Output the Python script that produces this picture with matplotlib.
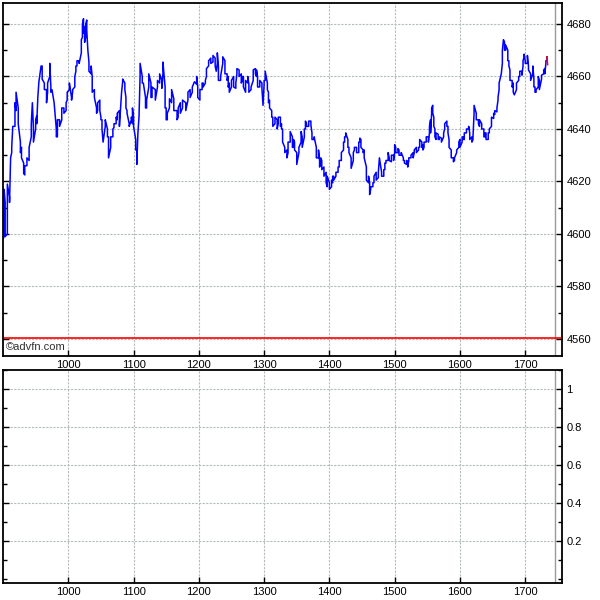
import matplotlib
matplotlib.use("Agg")
import matplotlib.pyplot as plt
from matplotlib.ticker import MultipleLocator

# intraday ticks: minutes after midnight, high / low seen in that minute
tm = [540, 541, 542, 544, 546, 547, 548, 549, 551, 552, 554, 556, 557, 559, 560, 562, 564, 566, 567, 568,
      570, 571, 572, 573, 575, 576, 578, 580, 581, 583, 584, 585, 587, 589, 590, 592, 594, 596, 598, 599,
      601, 603, 604, 606, 607, 608, 610, 612, 613, 614, 615, 616, 617, 618, 619, 621, 622, 624, 626, 627,
      629, 630, 631, 632, 634, 636, 637, 639, 641, 642, 644, 645, 647, 649, 650, 652, 653, 654, 656, 658,
      659, 660, 662, 663, 664, 665, 666, 668, 669, 671, 672, 674, 676, 677, 680, 682, 684, 686, 687, 689,
      690, 691, 693, 695, 697, 700, 701, 703, 705, 708, 710, 712, 714, 716, 718, 719, 721, 723, 724, 726,
      727, 729, 731, 733, 735, 736, 737, 738, 740, 742, 744, 746, 747, 748, 750, 752, 754, 755, 757, 759,
      760, 761, 763, 765, 766, 768, 770, 772, 773, 774, 776, 778, 779, 780, 781, 783, 784, 785, 787, 788,
      790, 792, 793, 795, 796, 797, 799, 801, 802, 804, 806, 807, 808, 810, 812, 814, 815, 817, 818, 819,
      821, 823, 824, 826, 828, 830, 831, 832, 833, 835, 837, 838, 840, 842, 843, 844, 846, 848, 849, 851,
      853, 854, 855, 857, 858, 860, 862, 863, 865, 867, 868, 869, 871, 872, 874, 876, 877, 878, 880, 881,
      883, 885, 886, 888, 890, 891, 892, 894, 895, 897, 899, 900, 901, 903, 904, 906, 908, 909, 911, 912,
      913, 915, 917, 918, 920, 922, 923, 925, 926, 927, 929, 931, 932, 933, 934, 935, 936, 937, 938, 940,
      941, 943, 945, 946, 948, 949, 950, 952, 954, 955, 957, 959, 960, 962, 963, 964, 966, 968, 969, 971,
      972, 973, 975, 977, 978, 980, 982, 983, 984, 986, 987, 989, 991, 992, 994, 995, 996, 998, 999, 1000,
      1001, 1002, 1004, 1005, 1006, 1008, 1009, 1010, 1012, 1014, 1015, 1017, 1018, 1019, 1020, 1022, 1023,
      1025, 1027, 1028, 1029, 1030, 1032, 1033, 1035, 1037, 1038, 1039, 1040]
hi = [4598, 4617, 4612, 4619, 4614, 4629, 4633, 4641, 4650, 4654, 4648, 4635, 4633, 4627, 4626, 4629, 4633, 4642, 4650, 4640,
      4643.5, 4645, 4652, 4658, 4664, 4664, 4657.5, 4655, 4657.5, 4665, 4656, 4655, 4650, 4640, 4643.5, 4643.5, 4648, 4648, 4650, 4654,
      4657.5, 4652, 4655, 4660, 4664, 4666, 4666, 4674, 4680, 4682, 4679, 4680, 4681.5, 4670, 4665.5, 4664, 4660, 4655, 4648, 4650,
      4651, 4644.5, 4643.5, 4635, 4643.5, 4640, 4637, 4637, 4640, 4642, 4644.5, 4646, 4647, 4654, 4659, 4657.5, 4652, 4647, 4642, 4644.5,
      4648, 4644.5, 4636, 4632, 4638.5, 4644.5, 4665, 4660, 4657.5, 4652, 4651, 4661, 4657.5, 4656, 4655, 4658.5, 4661, 4658.5, 4665.5, 4656,
      4648, 4646, 4651.5, 4655, 4651.5, 4647, 4648, 4650, 4651, 4650, 4654, 4655, 4656, 4658, 4660, 4656, 4655, 4657.5, 4657.5, 4658.5,
      4663, 4666, 4667, 4668, 4667, 4662, 4669, 4664, 4660, 4667.5, 4666, 4661, 4660, 4657.5, 4658.5, 4660, 4657.5, 4663, 4662.5, 4661,
      4660, 4660, 4658.5, 4660, 4657, 4656, 4662.5, 4663, 4662.5, 4660, 4658.5, 4657.5, 4649, 4658.5, 4662, 4657.5, 4654, 4651, 4647, 4644.5,
      4644.5, 4643.5, 4644.5, 4644.5, 4642, 4640, 4633, 4632, 4635, 4639, 4637, 4636, 4635, 4631, 4633, 4639, 4637, 4640, 4643, 4642,
      4643, 4643, 4638.5, 4637, 4633, 4632, 4628, 4629, 4628, 4625.5, 4623.5, 4622, 4619.5, 4620.5, 4622, 4622, 4623.5, 4625.5, 4628, 4631,
      4635, 4637, 4638.5, 4636, 4633, 4629, 4631, 4633, 4633, 4635, 4636.5, 4636, 4632, 4632, 4625.5, 4622, 4619.5, 4618, 4619.5, 4622,
      4623.5, 4623.5, 4629, 4623.5, 4624.5, 4627, 4628, 4631, 4629, 4630, 4630, 4634, 4633, 4632.5, 4632, 4631, 4629, 4628, 4628, 4627.5,
      4629, 4630, 4631, 4632, 4633, 4633, 4636, 4635, 4634, 4635, 4637, 4637, 4641, 4643.5, 4648, 4649, 4644.5, 4640, 4638.5, 4638,
      4637, 4636.5, 4638.5, 4642, 4643, 4641, 4636, 4632, 4629, 4629, 4632, 4635, 4636, 4637, 4637, 4638.5, 4640, 4641, 4638.5, 4637,
      4637, 4649, 4646, 4643.5, 4643.5, 4642, 4640, 4638.5, 4638.5, 4638.5, 4640, 4644.5, 4646, 4647, 4648, 4652, 4657.5, 4661, 4670, 4674,
      4673, 4672, 4670, 4666, 4662.5, 4658.5, 4657.5, 4653, 4657.5, 4660, 4662, 4662, 4666, 4668.5, 4666, 4668, 4664,
      4661, 4664, 4659, 4656, 4655, 4660, 4658.5, 4660.5, 4662.5, 4663, 4666, 4667.5]
lo = [4598, 4599, 4599, 4600, 4612, 4629, 4631, 4641, 4641, 4647, 4642, 4631, 4629, 4623, 4622.5, 4626, 4628, 4637, 4650, 4635,
      4640, 4642, 4652, 4658, 4664, 4659, 4655, 4650, 4654, 4660, 4654, 4655, 4650, 4637, 4637, 4641, 4643.5, 4646, 4647, 4651,
      4655, 4651, 4654, 4656, 4662, 4664, 4665, 4669, 4675, 4676.5, 4673, 4675, 4677.5, 4670, 4662, 4661, 4654, 4652, 4646, 4647,
      4647, 4643.5, 4640, 4635, 4641, 4637, 4629, 4633, 4637, 4640.5, 4642, 4643.5, 4641, 4654, 4658, 4655, 4648, 4646, 4641, 4643.5,
      4642, 4641, 4632, 4626.5, 4638.5, 4644.5, 4660, 4657.5, 4657.5, 4648, 4648, 4656, 4652, 4652, 4651, 4656, 4657.5, 4655.5, 4661, 4648,
      4643.5, 4643.5, 4648, 4650, 4647, 4643.5, 4644.5, 4646, 4648, 4647, 4651, 4652, 4654, 4658, 4657, 4652, 4651, 4655, 4656, 4657.5,
      4660, 4664, 4665, 4665.5, 4664, 4662, 4665, 4658.5, 4658.5, 4665, 4661, 4658.5, 4656, 4654, 4656, 4656, 4655.5, 4661, 4660, 4657.5,
      4658.5, 4656, 4654, 4657.5, 4654, 4655, 4658.5, 4661, 4660, 4656, 4656, 4655.5, 4649, 4657, 4658.5, 4655, 4650, 4648, 4644.5, 4641,
      4642, 4640, 4642, 4641, 4640, 4635, 4631, 4629, 4631, 4635, 4633, 4633, 4632, 4626.5, 4631, 4635, 4633, 4637, 4640, 4641,
      4641, 4641.5, 4636, 4636, 4629, 4629, 4625.5, 4627, 4624.5, 4622, 4619.5, 4618, 4617, 4618, 4619.5, 4620.5, 4622, 4623.5, 4625.5, 4628,
      4632, 4635, 4637, 4633, 4631, 4625, 4628, 4632, 4631, 4631, 4635, 4633, 4631, 4629, 4620.5, 4619.5, 4615, 4617, 4618, 4619.5,
      4620.5, 4621.5, 4629, 4622, 4622, 4624.5, 4627, 4628, 4628, 4627.5, 4628, 4631, 4631, 4631, 4630, 4630, 4628, 4627, 4626.5, 4625.5,
      4628, 4629, 4629, 4631, 4631, 4632, 4633, 4633, 4632, 4633, 4635, 4635, 4638.5, 4638.5, 4646, 4646, 4641, 4637, 4636, 4636,
      4636, 4635, 4637, 4640, 4641, 4638.5, 4633, 4629, 4627.5, 4628, 4631, 4633, 4633, 4635, 4636, 4636, 4638.5, 4640, 4636, 4635,
      4636, 4646, 4643.5, 4642, 4641, 4640, 4637, 4637, 4636, 4636, 4638.5, 4641, 4644, 4645.5, 4646.5, 4651, 4655, 4661, 4665, 4674,
      4670, 4670, 4666, 4664, 4658.5, 4656, 4654, 4653, 4655, 4658.5, 4660, 4660.5, 4664, 4667.5, 4665, 4665, 4662.5,
      4658.5, 4661, 4656, 4654, 4654, 4656, 4655, 4659, 4661, 4661, 4665, 4666]
last_tm, last_px = 1040.6, 4664.5     # final downtick, drawn red
prev_close = 4560.5
close_mark = 1047

hour_ticks = [600, 660, 720, 780, 840, 900, 960, 1020]
hour_labels = ["1000", "1100", "1200", "1300", "1400", "1500", "1600", "1700"]

# build the tick path, visiting the nearer of high/low first
xs, ys = [], []
for t, h, l in zip(tm, hi, lo):
    if h == l:
        pair = [h]
    elif ys and abs(ys[-1] - l) < abs(ys[-1] - h):
        pair = [l, h]
    else:
        pair = [h, l]
    for v in pair:
        xs.append(t)
        ys.append(v)

grid_kw = dict(color="#b4bcbc", linestyle=(0, (2, 1.2)), linewidth=0.8)


def style_axes(ax):
    ax.set_xlim(540, 1054)
    ax.set_xticks(hour_ticks, hour_labels)
    ax.yaxis.tick_right()
    ax.tick_params(axis="both", which="both", direction="in", labelsize=8,
                   left=True, right=True, top=False, bottom=True,
                   labelleft=False, labelright=True, pad=3)
    ax.tick_params(which="major", length=4, width=1)
    ax.tick_params(which="minor", length=3, width=1)
    ax.grid(True, which="major", **grid_kw)
    ax.axvline(close_mark, color="#9a9a9a", linewidth=1)
    for s in ax.spines.values():
        s.set_linewidth(1.3)


plt.rcParams["font.family"] = ["Liberation Sans", "DejaVu Sans"]
fig = plt.figure(figsize=(6, 6), dpi=100)

ax1 = fig.add_axes([0.005, 0.4067, 0.932, 0.5883])
style_axes(ax1)
ax1.set_ylim(4553.5, 4688)
ax1.set_yticks(range(4560, 4690, 20))
ax1.yaxis.set_minor_locator(MultipleLocator(10))
ax1.axhline(prev_close, color="red", linewidth=1.2)
ax1.plot(xs, ys, color="#0000ff", linewidth=1.1)
ax1.plot([xs[-1], last_tm], [ys[-1], last_px], color="red", linewidth=1.1)
ax1.text(0.006, 0.012, "\u00a9advfn.com", transform=ax1.transAxes,
         fontsize=8, color="#303030", ha="left", va="bottom")

ax2 = fig.add_axes([0.005, 0.0283, 0.932, 0.355])
style_axes(ax2)
ax2.set_ylim(-0.02, 1.1)
ax2.set_yticks([0.2, 0.4, 0.6, 0.8, 1.0], ["0.2", "0.4", "0.6", "0.8", "1"])
ax2.yaxis.set_minor_locator(MultipleLocator(0.1))

fig.savefig("out.png", dpi=100)
